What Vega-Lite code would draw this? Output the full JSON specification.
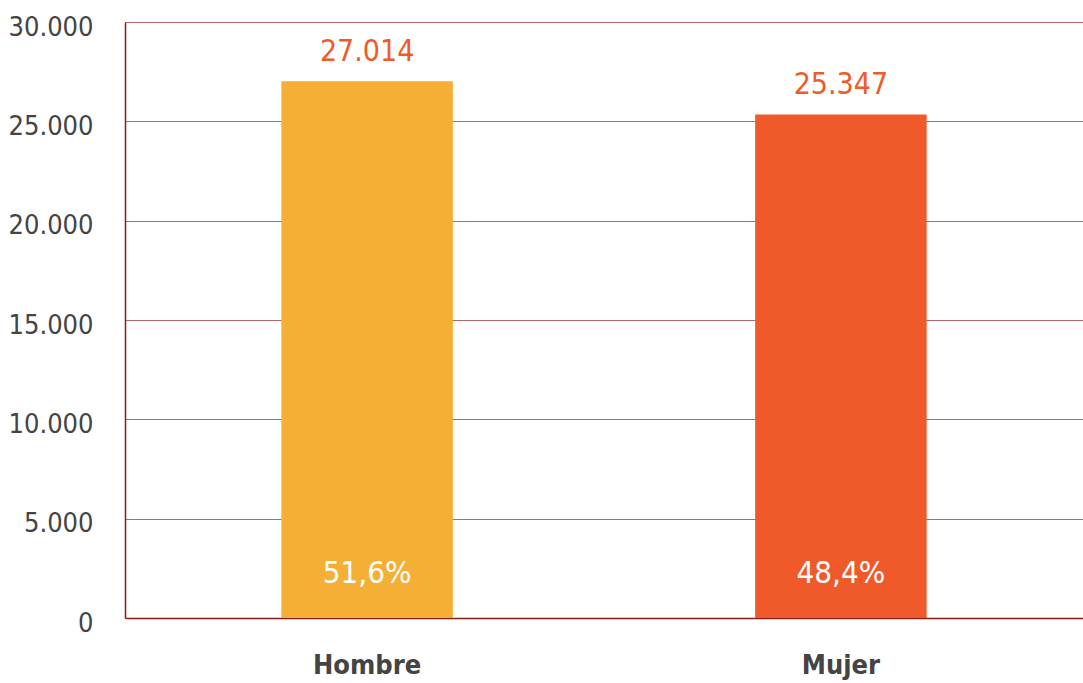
{
  "$schema": "https://vega.github.io/schema/vega-lite/v6.json",
  "width": 958,
  "height": 596,
  "autosize": {"type": "none"},
  "padding": {"left": 125, "top": 22, "right": 0, "bottom": 65},
  "background": "white",
  "data": {
    "values": [
      {"sexo": "Hombre", "valor": 27014, "etiqueta": "27.014", "pct": "51,6%"},
      {"sexo": "Mujer", "valor": 25347, "etiqueta": "25.347", "pct": "48,4%"}
    ]
  },
  "encoding": {
    "x": {
      "field": "sexo",
      "type": "nominal",
      "sort": null,
      "title": null,
      "scale": {"paddingInner": 0.638, "paddingOuter": 0.33},
      "axis": {
        "labelAngle": 0,
        "labelFont": "DejaVu Sans Condensed, Roboto, sans-serif",
        "labelFontSize": 27,
        "labelFontWeight": "bold",
        "labelColor": "#444444",
        "labelPadding": 34,
        "labelBaseline": "top",
        "ticks": false,
        "domainColor": "#8b1a1a",
        "domainWidth": 1.5,
        "grid": false
      }
    }
  },
  "layer": [
    {
      "mark": {"type": "bar"},
      "encoding": {
        "y": {
          "field": "valor",
          "type": "quantitative",
          "title": null,
          "scale": {"domain": [0, 30000]},
          "axis": {
            "values": [0, 5000, 10000, 15000, 20000, 25000, 30000],
            "format": ",d",
            "labelFont": "DejaVu Sans Condensed, Roboto, sans-serif",
            "labelFontSize": 27,
            "labelColor": "#444444",
            "labelPadding": 32,
            "labelOffset": 5,
            "ticks": false,
            "domainColor": "#8b1a1a",
            "domainWidth": 1.5,
            "gridColor": "#b5676b",
            "gridWidth": 1
          }
        },
        "color": {
          "field": "sexo",
          "type": "nominal",
          "legend": null,
          "scale": {"domain": ["Hombre", "Mujer"], "range": ["#f5af35", "#f05a2a"]}
        }
      }
    },
    {
      "mark": {"type": "text", "baseline": "bottom", "dy": -14, "font": "DejaVu Sans Condensed, Roboto, sans-serif", "fontSize": 30, "color": "#f05a2a"},
      "encoding": {
        "y": {"field": "valor", "type": "quantitative"},
        "text": {"field": "etiqueta"}
      }
    },
    {
      "mark": {"type": "text", "baseline": "bottom", "dy": -28, "font": "DejaVu Sans Condensed, Roboto, sans-serif", "fontSize": 31, "color": "white"},
      "encoding": {
        "y": {"datum": 0, "type": "quantitative"},
        "text": {"field": "pct"}
      }
    }
  ],
  "config": {
    "locale": {"number": {"decimal": ",", "thousands": ".", "grouping": [3], "currency": ["", " €"]}},
    "view": {"stroke": null}
  }
}
